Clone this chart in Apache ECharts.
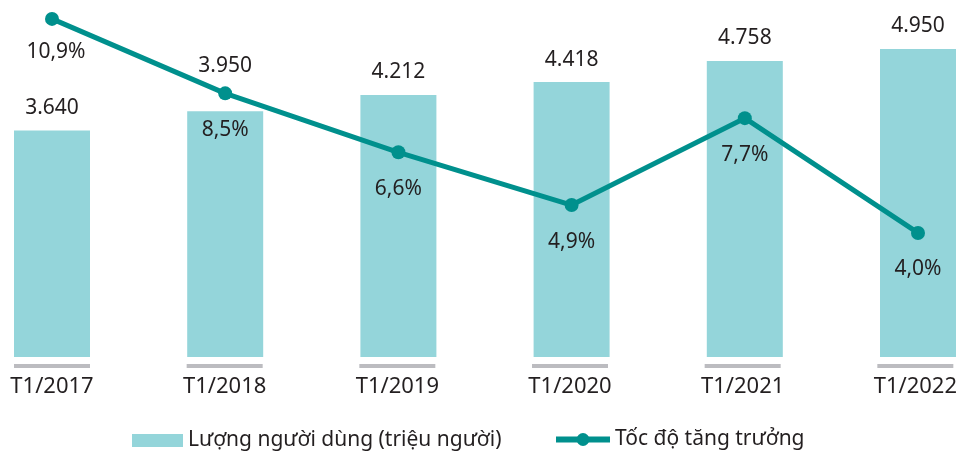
<!DOCTYPE html>
<html>
<head>
<meta charset="utf-8">
<script src="https://cdn.jsdelivr.net/npm/echarts@6/dist/echarts.min.js"></script>
<style>
  html, body { margin: 0; padding: 0; background: #fff; }
  #chart { width: 960px; height: 451px; }
</style>
</head>
<body>
<div id="chart"></div>
<script>
// Chart data
const categories = ['T1/2017', 'T1/2018', 'T1/2019', 'T1/2020', 'T1/2021', 'T1/2022'];
const users = [3640, 3950, 4212, 4418, 4758, 4950];
const growth = [10.9, 8.5, 6.6, 4.9, 7.7, 4.0];
const baseStrip = [1, 1, 1, 1, 1, 1];

const barName = 'Lượng người dùng (triệu người)';
const lineName = 'Tốc độ tăng trưởng';

const textColor = '#231f20';
const barColor = '#94d5da';
const lineColor = '#00908d';
const fontFamily = '"Noto Sans", sans-serif';

// Format number with dot thousands separator
function formatThousands(num) {
    return num.toString().replace(/\B(?=(\d{3})+(?!\d))/g, '.');
}

// Format percent with comma decimal
function formatPercent(num) {
    return num.toFixed(1).replace('.', ',') + '%';
}

const chart = echarts.init(document.getElementById('chart'));

// 3.950 label sits higher, above the line marker
const barData = users.map((v, i) => {
    if (i === 1) {
        return { value: v, label: { distance: 35 } };
    }
    return v;
});

// first growth label is nudged a little
const lineData = growth.map((v, i) => {
    if (i === 0) {
        return { value: v, label: { distance: 16, offset: [4, 0] } };
    }
    return v;
});

const legendText = { fontSize: 21, color: textColor, fontFamily: fontFamily };

chart.setOption({
    animation: false,
    textStyle: { fontFamily: fontFamily },
    grid: [
        { left: 52, right: 42, top: 0, height: 357 },
        { left: 52, right: 42, top: 364, height: 4 }
    ],
    legend: [
        {
            left: 127,
            top: 425,
            itemWidth: 51,
            itemHeight: 13,
            textStyle: legendText,
            data: [{ name: barName, icon: 'rect' }]
        },
        {
            left: 548,
            top: 424,
            itemWidth: 54,
            itemHeight: 16,
            textStyle: legendText,
            data: [{ name: lineName, lineStyle: { width: 6 } }]
        }
    ],
    xAxis: [
        {
            type: 'category',
            gridIndex: 0,
            boundaryGap: false,
            data: categories,
            axisLine: { show: false },
            axisTick: { show: false },
            axisLabel: { show: false }
        },
        {
            type: 'category',
            gridIndex: 1,
            boundaryGap: false,
            data: categories,
            axisLine: { show: false },
            axisTick: { show: false },
            axisLabel: {
                margin: 8,
                fontSize: 22,
                color: textColor,
                fontFamily: fontFamily
            }
        }
    ],
    yAxis: [
        { type: 'value', gridIndex: 0, min: 0, max: 5737, show: false },
        { type: 'value', gridIndex: 0, min: 0, max: 11.51, show: false },
        { type: 'value', gridIndex: 1, min: 0, max: 1, show: false }
    ],
    series: [
        {
            name: barName,
            type: 'bar',
            xAxisIndex: 0,
            yAxisIndex: 0,
            barWidth: 76,
            clip: false,
            itemStyle: { color: barColor },
            label: {
                show: true,
                position: 'top',
                distance: 12,
                fontSize: 21,
                color: textColor,
                formatter: p => formatThousands(p.value)
            },
            data: barData
        },
        {
            name: 'base',
            type: 'bar',
            xAxisIndex: 1,
            yAxisIndex: 2,
            barWidth: 76,
            clip: false,
            silent: true,
            itemStyle: { color: '#bcbcc0' },
            data: baseStrip
        },
        {
            name: lineName,
            type: 'line',
            xAxisIndex: 0,
            yAxisIndex: 1,
            symbol: 'circle',
            symbolSize: 14,
            clip: false,
            z: 5,
            lineStyle: { color: lineColor, width: 5 },
            itemStyle: { color: lineColor },
            label: {
                show: true,
                position: 'bottom',
                distance: 19,
                fontSize: 21,
                color: textColor,
                formatter: p => formatPercent(p.value)
            },
            data: lineData
        }
    ]
});
</script>
</body>
</html>
